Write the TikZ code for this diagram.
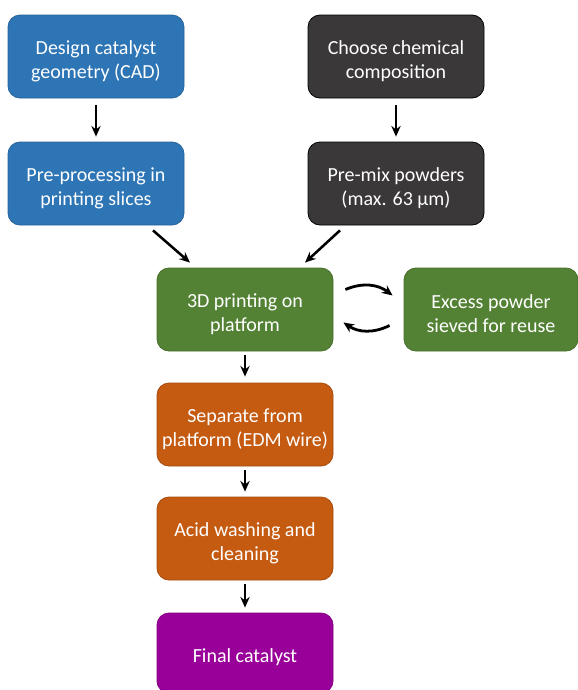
\documentclass[tikz,border=0pt]{standalone}
\usepackage{fontspec}
\setmainfont{Carlito}
\usetikzlibrary{arrows.meta}
\definecolor{cblue}{HTML}{2E75B6}
\definecolor{cdark}{HTML}{3A3838}
\definecolor{cgreen}{HTML}{548235}
\definecolor{corange}{HTML}{C55A11}
\definecolor{cpurple}{HTML}{990099}
\newcommand{\tp}{\rule{0pt}{17pt}}
\begin{document}
\begin{tikzpicture}[x=0.75pt,y=-0.75pt,
  box/.style={rectangle,rounded corners=9pt,minimum width=176*0.75pt,minimum height=83*0.75pt,
    inner sep=0pt,align=center,text=white,font=\fontsize{15}{18}\selectfont,line width=0.6pt},
  bluebox/.style={box,fill=cblue,draw=cblue!85!black},
  darkbox/.style={box,fill=cdark,draw=black},
  greenbox/.style={box,fill=cgreen,draw=cgreen!85!black},
  orangebox/.style={box,fill=corange,draw=corange!85!black},
  purplebox/.style={box,fill=cpurple,draw=cpurple!85!black},
  arr/.style={-{Stealth[length=8pt,width=7pt]},line width=1.9pt,black}]
\useasboundingbox (0,0) rectangle (578,690);
\node[bluebox] (design) at (96,56.5) {\tp Design catalyst\\geometry (CAD)};
\node[bluebox] (pre) at (96,183.5) {\tp Pre-processing in\\printing slices};
\node[darkbox] (choose) at (396,56.5) {\tp Choose chemical\\composition};
\node[darkbox] (mix) at (396,183.5) {\tp Pre-mix powders\\(max. 63 µm)};
\node[greenbox] (print) at (245,309.5) {\tp 3D printing on\\platform};
\node[greenbox,minimum width=174*0.75pt] (excess) at (491,309.5) {\tp Excess powder\\sieved for reuse};
\node[orangebox] (sep) at (245,424.5) {\tp Separate from\\platform (EDM wire)};
\node[orangebox] (acid) at (245,538.5) {\tp Acid washing and\\cleaning};
\node[purplebox,minimum height=80*0.75pt] (final) at (245,653) {\tp Final catalyst};

\draw[arr] ([yshift=-7*0.75pt]design.south) -- ([yshift=5*0.75pt]pre.north);
\draw[arr] ([yshift=-7*0.75pt]choose.south) -- ([yshift=5*0.75pt]mix.north);
\draw[arr] ([xshift=57*0.75pt,yshift=-5*0.75pt]pre.south) -- ([xshift=-55*0.75pt,yshift=5*0.75pt]print.north);
\draw[arr] ([xshift=-56*0.75pt,yshift=-5*0.75pt]mix.south) -- ([xshift=60*0.75pt,yshift=5*0.75pt]print.north);
\draw[arr] ([yshift=-4*0.75pt]print.south) -- ([yshift=6*0.75pt]sep.north);
\draw[arr] ([yshift=-4*0.75pt]sep.south) -- ([yshift=5*0.75pt]acid.north);
\draw[arr] ([yshift=-4*0.75pt]acid.south) -- ([yshift=5*0.75pt]final.north);
\draw[arr,line width=2.1pt] ([xshift=12*0.75pt,yshift=20*0.75pt]print.east) to[bend left=30] ([xshift=-11*0.75pt,yshift=14*0.75pt]excess.west);
\draw[arr,line width=2.1pt] ([xshift=-14*0.75pt,yshift=-16*0.75pt]excess.west) to[bend left=30] ([xshift=10*0.75pt,yshift=-13*0.75pt]print.east);
\end{tikzpicture}
\end{document}
